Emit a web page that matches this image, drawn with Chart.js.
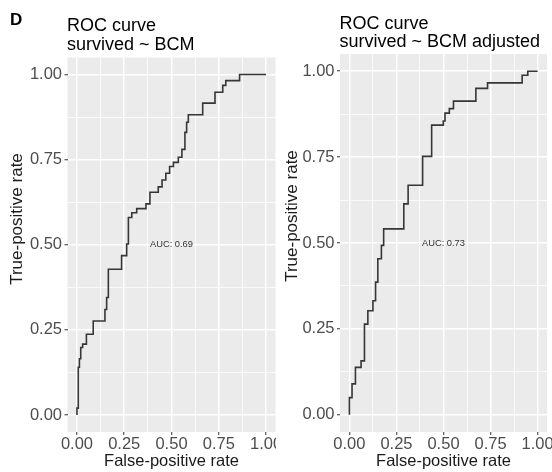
<!DOCTYPE html>
<html>
<head>
<meta charset="utf-8">
<script src="https://cdn.jsdelivr.net/npm/chart.js@4"></script>
<style>
  html, body { margin: 0; padding: 0; background: #fff; }
  #wrap { position: relative; width: 552px; height: 472px; overflow: hidden; }
  .cell { position: absolute; top: 0; width: 276px; height: 472px; }
</style>
</head>
<body>
<div id="wrap">
  <div class="cell" style="left:0"><canvas id="roc-bcm" width="276" height="472"></canvas></div>
  <div class="cell" style="left:276px"><canvas id="roc-adj" width="276" height="472"></canvas></div>
</div>
<script>
// ROC points (step corners)
const bcmFpr = [0, 0, 0.007, 0.013, 0.02, 0.03, 0.05, 0.086, 0.148, 0.157, 0.166, 0.236, 0.263, 0.272, 0.29,
  0.316, 0.365, 0.386, 0.43, 0.45, 0.47, 0.49, 0.51, 0.536, 0.555, 0.571, 0.58, 0.589, 0.665, 0.73, 0.771, 0.787, 0.86, 1.0];
const bcmTpr = [0, 0.02, 0.14, 0.165, 0.198, 0.208, 0.237, 0.276, 0.31, 0.345, 0.428, 0.468, 0.502, 0.58, 0.594,
  0.606, 0.62, 0.654, 0.67, 0.69, 0.71, 0.73, 0.742, 0.757, 0.78, 0.83, 0.86, 0.882, 0.916, 0.948, 0.968, 0.982, 1.0, 1.0];

const adjFpr = [0, 0, 0.014, 0.032, 0.062, 0.08, 0.098, 0.125, 0.139, 0.151, 0.17, 0.182, 0.289, 0.312, 0.389,
  0.437, 0.499, 0.508, 0.531, 0.553, 0.672, 0.734, 0.918, 0.948, 1.0];
const adjTpr = [0, 0.05, 0.09, 0.138, 0.157, 0.264, 0.303, 0.332, 0.386, 0.454, 0.493, 0.541, 0.614, 0.668, 0.752,
  0.843, 0.855, 0.878, 0.891, 0.913, 0.95, 0.966, 0.988, 1.0, 1.0];

const majorTicks = [0, 0.25, 0.5, 0.75, 1];
const minorTicks = [0.125, 0.375, 0.625, 0.875];
const bcmTitle = ['ROC curve', 'survived ~ BCM'];
const adjTitle = ['ROC curve', 'survived ~ BCM adjusted'];
const bcmAuc = 'AUC: 0.69';
const adjAuc = 'AUC: 0.73';
const yTitle = 'True-positive rate';
const xTitle = 'False-positive rate';

const FONT = '"Liberation Sans", Arial, Helvetica, sans-serif';

function isMajor(v) {
  return majorTicks.some(m => Math.abs(m - v) < 1e-9);
}

function allTicks() {
  return majorTicks.concat(minorTicks).sort((a, b) => a - b).map(v => ({ value: v }));
}

// grey panel, AUC label, y title, panel tag and two-line title
const panelPlugin = {
  id: 'panel',
  beforeDraw(chart, args, opts) {
    const { ctx, chartArea: a } = chart;
    ctx.save();
    ctx.fillStyle = '#EBEBEB';
    ctx.fillRect(a.left, a.top, a.right - a.left, a.bottom - a.top);
    ctx.restore();
  },
  afterDatasetsDraw(chart, args, opts) {
    const { ctx, scales } = chart;
    ctx.save();
    ctx.fillStyle = '#333';
    ctx.font = '9.3px ' + FONT;
    ctx.textAlign = 'center';
    ctx.textBaseline = 'middle';
    ctx.fillText(opts.auc, scales.x.getPixelForValue(0.5), scales.y.getPixelForValue(0.5));
    ctx.restore();
  },
  afterDraw(chart, args, opts) {
    const { ctx, chartArea: a } = chart;
    ctx.save();
    ctx.fillStyle = '#000';
    ctx.textAlign = 'left';
    ctx.textBaseline = 'alphabetic';
    if (opts.tag) {
      ctx.font = 'bold 17px ' + FONT;
      ctx.fillText(opts.tag, 10, 25);
    }
    ctx.font = '18px ' + FONT;
    opts.title.forEach((line, i) => {
      ctx.fillText(line, a.left - 0.5, opts.titleBase + i * 18.5);
    });
    ctx.restore();

    // y axis title sits a bit above the panel centre in the figure
    ctx.save();
    ctx.fillStyle = '#1A1A1A';
    ctx.font = '17px ' + FONT;
    ctx.translate(opts.yTitleX, opts.yTitleY);
    ctx.rotate(-Math.PI / 2);
    ctx.textAlign = 'center';
    ctx.textBaseline = 'middle';
    ctx.fillText(yTitle, 0, 0);
    ctx.restore();
  }
};

function makeChart(id, fpr, tpr, cfg) {
  const points = fpr.map((x, i) => ({ x: x, y: tpr[i] }));
  const gridOpts = {
    color: '#FFFFFF',
    lineWidth: ctx => (ctx.tick && isMajor(ctx.tick.value)) ? 1.5 : 0.8,
    tickColor: ctx => (ctx.tick && isMajor(ctx.tick.value)) ? '#333333' : 'rgba(0,0,0,0)',
    tickWidth: 1,
    tickLength: 3,
    drawTicks: true
  };
  const tickLabel = v => isMajor(v) ? Number(v).toFixed(2) : '';

  return new Chart(document.getElementById(id), {
    type: 'line',
    data: {
      datasets: [{
        data: points,
        borderColor: '#363636',
        borderWidth: 1.6,
        pointRadius: 0,
        fill: false,
        tension: 0,
        stepped: 'before'
      }]
    },
    options: {
      responsive: false,
      animation: false,
      events: [],
      layout: { autoPadding: false, padding: { top: cfg.top, right: cfg.right, left: 0, bottom: 0 } },
      plugins: {
        legend: { display: false },
        tooltip: { enabled: false },
        panel: {
          title: cfg.title, auc: cfg.auc, tag: cfg.tag, titleBase: cfg.titleBase,
          yTitleX: cfg.yTitleX, yTitleY: cfg.yTitleY
        }
      },
      scales: {
        x: {
          type: 'linear',
          min: -0.05,
          max: 1.05,
          border: { display: false },
          grid: gridOpts,
          afterBuildTicks: s => { s.ticks = allTicks(); },
          afterFit: s => { s.height = 40; s.paddingLeft = 0; s.paddingRight = 0; },
          ticks: {
            autoSkip: false,
            maxRotation: 0,
            padding: 0,
            color: '#4D4D4D',
            font: { family: FONT, size: 16.5 },
            callback: tickLabel
          },
          title: {
            display: true,
            text: xTitle,
            color: '#1A1A1A',
            font: { family: FONT, size: 16.5 },
            padding: { top: 0, bottom: 1 }
          }
        },
        y: {
          type: 'linear',
          min: -0.05,
          max: 1.05,
          border: { display: false },
          grid: gridOpts,
          afterBuildTicks: s => { s.ticks = allTicks(); },
          afterFit: s => { s.width = cfg.yWidth; s.paddingTop = 0; s.paddingBottom = 0; },
          ticks: {
            autoSkip: false,
            padding: 2.5,
            color: '#4D4D4D',
            font: { family: FONT, size: 16.5 },
            callback: tickLabel
          },
          title: { display: false }
        }
      }
    },
    plugins: [panelPlugin]
  });
}

makeChart('roc-bcm', bcmFpr, bcmTpr, {
  title: bcmTitle, auc: bcmAuc, tag: 'D', titleBase: 31,
  top: 57.5, right: 0.5, yWidth: 67.5, yTitleX: 17.7, yTitleY: 219
});

makeChart('roc-adj', adjFpr, adjTpr, {
  title: adjTitle, auc: adjAuc, tag: null, titleBase: 28.5,
  top: 54, right: 5, yWidth: 64, yTitleX: 16, yTitleY: 216
});
</script>
</body>
</html>
